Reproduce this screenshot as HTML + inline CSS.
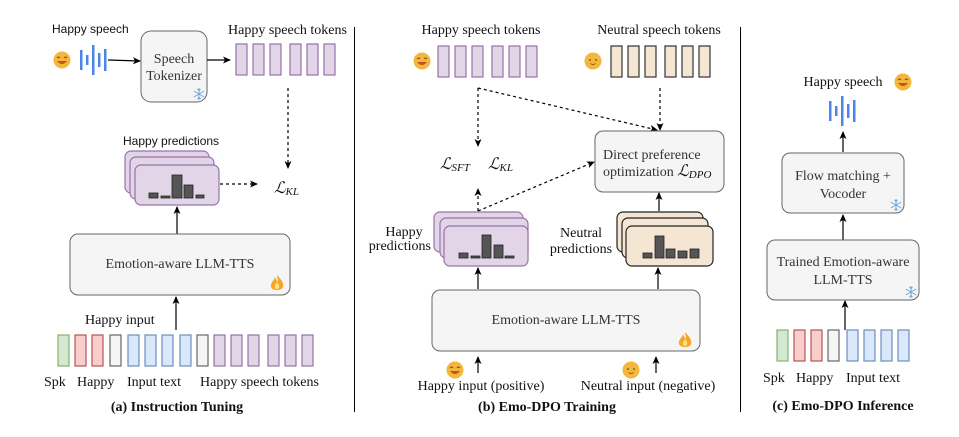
<!DOCTYPE html>
<html><head><meta charset="utf-8"><style>
html,body{margin:0;padding:0;background:#fff}
svg{display:block}
.s{font-family:"Liberation Serif",serif;fill:#333}
.a{font-family:"Liberation Sans",sans-serif;fill:#111}
.b{font-family:"Liberation Serif",serif;font-weight:bold;fill:#111}
.m{font-family:"Liberation Serif",serif;font-style:italic;fill:#111}
</style></head><body>
<svg width="959" height="437" viewBox="0 0 959 437" xmlns="http://www.w3.org/2000/svg">
<defs>
<marker id="ar" markerWidth="8" markerHeight="8" refX="7" refY="4" orient="auto" markerUnits="userSpaceOnUse"><path d="M0,0.5 L8,4 L0,7.5 L2,4 z" fill="#000"/></marker>
<g id="happy"><circle r="8.5" fill="#f4b73d"/><path d="M-5,1 Q0,7 5,1 Z" fill="#c8501e"/><path d="M-5,-2 q1.5,-2 3,0 M2,-2 q1.5,-2 3,0" stroke="#7a4a10" stroke-width="1" fill="none"/></g>
<g id="neutral"><circle r="8.5" fill="#f4b73d"/><circle cx="-3" cy="-1" r="0.9" fill="#6b4a10"/><circle cx="3" cy="-1" r="0.9" fill="#6b4a10"/><path d="M-2.5,2.5 Q0,4.5 2.5,2.5" stroke="#6b4a10" stroke-width="0.8" fill="none"/></g>
<g id="wave" fill="#4a86e8"><rect x="0" y="5" width="2.5" height="20"/><rect x="6" y="10" width="2.5" height="10"/><rect x="12" y="0" width="2.5" height="30"/><rect x="18" y="8" width="2.5" height="14"/><rect x="24" y="4" width="2.5" height="22"/></g>
<g id="flame"><path d="M0,-8 C5,-3 7,1 6,4 C5,8 -5,8 -6,4 C-7,0 -3,-2 -2,-6 C-1,-3 0,-2 1,-1 C1,-4 0,-6 0,-8Z" fill="#f5a623"/><path d="M0,-1 C3,2 3,6 0,6 C-3,6 -3,3 0,-1Z" fill="#fde08a"/></g>
<g id="snow" stroke="#6fa8dc" stroke-width="1" fill="none"><path d="M0,-6V6M-5.2,-3 5.2,3M-5.2,3 5.2,-3"/><path d="M-1.5,-5 0,-3.5 1.5,-5M-1.5,5 0,3.5 1.5,5"/></g>
</defs>

<!-- ===== Panel A ===== -->
<text class="a" x="52" y="33" font-size="12">Happy speech</text>
<use href="#happy" x="62" y="60"/>
<use href="#wave" x="80" y="45"/>
<line x1="108" y1="60" x2="140" y2="61" stroke="#000" stroke-width="1.2" marker-end="url(#ar)"/>
<rect x="141" y="31" width="66" height="71" rx="10" fill="#f5f5f5" stroke="#666"/>
<text class="s" x="174" y="63" font-size="14" text-anchor="middle">Speech</text>
<text class="s" x="174" y="80" font-size="14" text-anchor="middle">Tokenizer</text>
<use href="#snow" x="199" y="94"/>
<line x1="207" y1="60" x2="230" y2="60" stroke="#000" stroke-width="1.2" marker-end="url(#ar)"/>
<text class="s" x="228" y="34" font-size="14" style="fill:#111">Happy speech tokens</text>
<g fill="#e1d5e7" stroke="#9673a6" stroke-width="1.2">
<rect x="236" y="44" width="11" height="31"/><rect x="253" y="44" width="11" height="31"/><rect x="270" y="44" width="11" height="31"/><rect x="290" y="44" width="11" height="31"/><rect x="307" y="44" width="11" height="31"/><rect x="324" y="44" width="11" height="31"/>
</g>
<line x1="288" y1="88" x2="288" y2="168" stroke="#000" stroke-width="1.2" stroke-dasharray="3,3" marker-end="url(#ar)"/>
<text class="m" x="274" y="193" font-size="16">ℒ<tspan font-size="11" dy="2">KL</tspan></text>
<text class="a" x="123" y="145" font-size="12">Happy predictions</text>
<g fill="#e1d5e7" stroke="#9673a6" stroke-width="1.2">
<rect x="125" y="151" width="84" height="42" rx="6"/><rect x="130" y="157" width="84" height="42" rx="6"/><rect x="135" y="165" width="84" height="40" rx="6"/>
</g>
<g fill="#555" stroke="#222" stroke-width="0.8">
<rect x="149" y="193" width="9" height="5"/><rect x="161" y="196" width="9" height="2"/><rect x="172" y="175" width="10" height="23"/><rect x="184" y="185" width="9" height="13"/><rect x="196" y="195" width="8" height="3"/>
</g>
<line x1="220" y1="184" x2="257" y2="184" stroke="#000" stroke-width="1.2" stroke-dasharray="3,3" marker-end="url(#ar)"/>
<line x1="177" y1="234" x2="177" y2="207" stroke="#000" stroke-width="1.2" marker-end="url(#ar)"/>
<rect x="70" y="234" width="220" height="61" rx="8" fill="#f5f5f5" stroke="#666"/>
<text class="s" x="180" y="268" font-size="14" text-anchor="middle">Emotion-aware LLM-TTS</text>
<use href="#flame" x="277" y="283"/>
<line x1="176" y1="330" x2="176" y2="297" stroke="#000" stroke-width="1.2" marker-end="url(#ar)"/>
<text class="s" x="85" y="324" font-size="14" style="fill:#111">Happy input</text>
<g stroke-width="1.2">
<rect x="58" y="335" width="11" height="31" fill="#d5e8d4" stroke="#82b366"/>
<rect x="75" y="335" width="11" height="31" fill="#f8cecc" stroke="#b85450"/>
<rect x="92" y="335" width="11" height="31" fill="#f8cecc" stroke="#b85450"/>
<rect x="110" y="335" width="11" height="31" fill="#f5f5f5" stroke="#666"/>
<rect x="128" y="335" width="11" height="31" fill="#dae8fc" stroke="#6c8ebf"/>
<rect x="145" y="335" width="11" height="31" fill="#dae8fc" stroke="#6c8ebf"/>
<rect x="162" y="335" width="11" height="31" fill="#dae8fc" stroke="#6c8ebf"/>
<rect x="180" y="335" width="11" height="31" fill="#dae8fc" stroke="#6c8ebf"/>
<rect x="197" y="335" width="11" height="31" fill="#f5f5f5" stroke="#666"/>
<rect x="214" y="335" width="11" height="31" fill="#e1d5e7" stroke="#9673a6"/>
<rect x="231" y="335" width="11" height="31" fill="#e1d5e7" stroke="#9673a6"/>
<rect x="248" y="335" width="11" height="31" fill="#e1d5e7" stroke="#9673a6"/>
<rect x="268" y="335" width="11" height="31" fill="#e1d5e7" stroke="#9673a6"/>
<rect x="285" y="335" width="11" height="31" fill="#e1d5e7" stroke="#9673a6"/>
<rect x="302" y="335" width="11" height="31" fill="#e1d5e7" stroke="#9673a6"/>
</g>
<g class="s" font-size="14" style="fill:#111">
<text x="44" y="386">Spk</text><text x="77" y="386">Happy</text><text x="127" y="386">Input text</text><text x="200" y="386">Happy speech tokens</text>
</g>
<text class="b" x="177" y="411" font-size="14" text-anchor="middle">(a) Instruction Tuning</text>
<line x1="354.5" y1="27" x2="354.5" y2="412" stroke="#000" stroke-width="1"/>

<!-- ===== Panel B ===== -->
<text class="s" x="481" y="34" font-size="14" text-anchor="middle" style="fill:#111">Happy speech tokens</text>
<use href="#happy" x="422" y="61"/>
<g fill="#e1d5e7" stroke="#9673a6" stroke-width="1.2">
<rect x="438" y="46" width="11" height="31"/><rect x="455" y="46" width="11" height="31"/><rect x="472" y="46" width="11" height="31"/><rect x="492" y="46" width="11" height="31"/><rect x="509" y="46" width="11" height="31"/><rect x="526" y="46" width="11" height="31"/>
</g>
<text class="s" x="659" y="34" font-size="14" text-anchor="middle" style="fill:#111">Neutral speech tokens</text>
<use href="#neutral" x="593" y="61"/>
<g fill="#f5e6d3" stroke="#333" stroke-width="1.2">
<rect x="611" y="46" width="11" height="31"/><rect x="628" y="46" width="11" height="31"/><rect x="645" y="46" width="11" height="31"/><rect x="665" y="46" width="11" height="31"/><rect x="682" y="46" width="11" height="31"/><rect x="699" y="46" width="11" height="31"/>
</g>
<g stroke="#000" stroke-width="1.2" stroke-dasharray="3,3" fill="none">
<line x1="478" y1="88" x2="478" y2="146" marker-end="url(#ar)"/>
<line x1="478" y1="88" x2="657" y2="130" marker-end="url(#ar)"/>
<line x1="660" y1="88" x2="660" y2="130" marker-end="url(#ar)"/>
<line x1="478" y1="211" x2="478" y2="189" marker-end="url(#ar)"/>
<line x1="478" y1="211" x2="594" y2="162" marker-end="url(#ar)"/>
</g>
<text class="m" x="440" y="169" font-size="16">ℒ<tspan font-size="11" dy="2">SFT</tspan></text>
<text class="m" x="488" y="169" font-size="16">ℒ<tspan font-size="11" dy="2">KL</tspan></text>
<rect x="595" y="131" width="129" height="61" rx="8" fill="#f5f5f5" stroke="#666"/>
<text class="s" x="603" y="159" font-size="14">Direct preference</text>
<text class="s" x="603" y="176" font-size="14">optimization <tspan class="m" font-size="16" style="fill:#111">ℒ</tspan><tspan class="m" font-size="11" dy="2" style="fill:#111">DPO</tspan></text>
<g fill="#e1d5e7" stroke="#9673a6" stroke-width="1.2">
<rect x="434" y="212" width="89" height="40" rx="6"/><rect x="440" y="218" width="88" height="40" rx="6"/><rect x="444" y="226" width="84" height="40" rx="6"/>
</g>
<g fill="#555" stroke="#222" stroke-width="0.8">
<rect x="459" y="253" width="9" height="5"/><rect x="471" y="256" width="9" height="2"/><rect x="482" y="235" width="9" height="23"/><rect x="494" y="245" width="9" height="13"/><rect x="505" y="256" width="9" height="2"/>
</g>
<text class="s" x="404" y="236" font-size="14" text-anchor="middle" style="fill:#111">Happy</text>
<text class="s" x="431" y="250" font-size="14" text-anchor="end" style="fill:#111">predictions</text>
<g fill="#f5e6d3" stroke="#222" stroke-width="1.2">
<rect x="617" y="212" width="86" height="40" rx="6"/><rect x="622" y="218" width="86" height="40" rx="6"/><rect x="626" y="226" width="87" height="40" rx="6"/>
</g>
<g fill="#555" stroke="#222" stroke-width="0.8">
<rect x="643" y="253" width="9" height="5"/><rect x="655" y="236" width="9" height="22"/><rect x="666" y="249" width="9" height="9"/><rect x="678" y="251" width="9" height="7"/><rect x="690" y="249" width="9" height="9"/>
</g>
<text class="s" x="581" y="237" font-size="14" text-anchor="middle" style="fill:#111">Neutral</text>
<text class="s" x="581" y="253" font-size="14" text-anchor="middle" style="fill:#111">predictions</text>
<g stroke="#000" stroke-width="1.2">
<line x1="478" y1="289" x2="478" y2="268" marker-end="url(#ar)"/>
<line x1="658" y1="289" x2="658" y2="268" marker-end="url(#ar)"/>
<line x1="659" y1="211" x2="659" y2="193" marker-end="url(#ar)"/>
<line x1="478" y1="373" x2="478" y2="357" marker-end="url(#ar)"/>
<line x1="656" y1="373" x2="656" y2="357" marker-end="url(#ar)"/>
</g>
<rect x="432" y="290" width="268" height="61" rx="8" fill="#f5f5f5" stroke="#666"/>
<text class="s" x="566" y="324" font-size="14" text-anchor="middle">Emotion-aware LLM-TTS</text>
<use href="#flame" x="685" y="340"/>
<use href="#happy" x="455" y="370"/>
<use href="#neutral" x="631" y="370"/>
<text class="s" x="481" y="390" font-size="14" text-anchor="middle" style="fill:#111">Happy input (positive)</text>
<text class="s" x="648" y="390" font-size="14" text-anchor="middle" style="fill:#111">Neutral input (negative)</text>
<text class="b" x="547" y="411" font-size="14" text-anchor="middle">(b) Emo-DPO Training</text>
<line x1="740.5" y1="27" x2="740.5" y2="412" stroke="#000" stroke-width="1"/>

<!-- ===== Panel C ===== -->
<text class="s" x="843" y="86" font-size="14" text-anchor="middle" style="fill:#111">Happy speech</text>
<use href="#happy" x="903" y="82"/>
<use href="#wave" x="829" y="96"/>
<g stroke="#000" stroke-width="1.2">
<line x1="843" y1="152" x2="843" y2="132" marker-end="url(#ar)"/>
<line x1="843" y1="240" x2="843" y2="215" marker-end="url(#ar)"/>
<line x1="845" y1="330" x2="845" y2="301" marker-end="url(#ar)"/>
</g>
<rect x="782" y="153" width="122" height="60" rx="8" fill="#f5f5f5" stroke="#666"/>
<text class="s" x="843" y="180" font-size="14" text-anchor="middle">Flow matching +</text>
<text class="s" x="843" y="198" font-size="14" text-anchor="middle">Vocoder</text>
<use href="#snow" x="896" y="205"/>
<rect x="767" y="240" width="152" height="60" rx="8" fill="#f5f5f5" stroke="#666"/>
<text class="s" x="843" y="266" font-size="14" text-anchor="middle">Trained Emotion-aware</text>
<text class="s" x="843" y="284" font-size="14" text-anchor="middle">LLM-TTS</text>
<use href="#snow" x="911" y="292"/>
<g stroke-width="1.2">
<rect x="777" y="330" width="11" height="31" fill="#d5e8d4" stroke="#82b366"/>
<rect x="794" y="330" width="11" height="31" fill="#f8cecc" stroke="#b85450"/>
<rect x="811" y="330" width="11" height="31" fill="#f8cecc" stroke="#b85450"/>
<rect x="828" y="330" width="11" height="31" fill="#f5f5f5" stroke="#666"/>
<rect x="847" y="330" width="11" height="31" fill="#dae8fc" stroke="#6c8ebf"/>
<rect x="864" y="330" width="11" height="31" fill="#dae8fc" stroke="#6c8ebf"/>
<rect x="881" y="330" width="11" height="31" fill="#dae8fc" stroke="#6c8ebf"/>
<rect x="898" y="330" width="11" height="31" fill="#dae8fc" stroke="#6c8ebf"/>
</g>
<g class="s" font-size="14" style="fill:#111">
<text x="763" y="382">Spk</text><text x="796" y="382">Happy</text><text x="846" y="382">Input text</text>
</g>
<text class="b" x="843" y="410" font-size="14" text-anchor="middle">(c) Emo-DPO Inference</text>
</svg>
</body></html>
